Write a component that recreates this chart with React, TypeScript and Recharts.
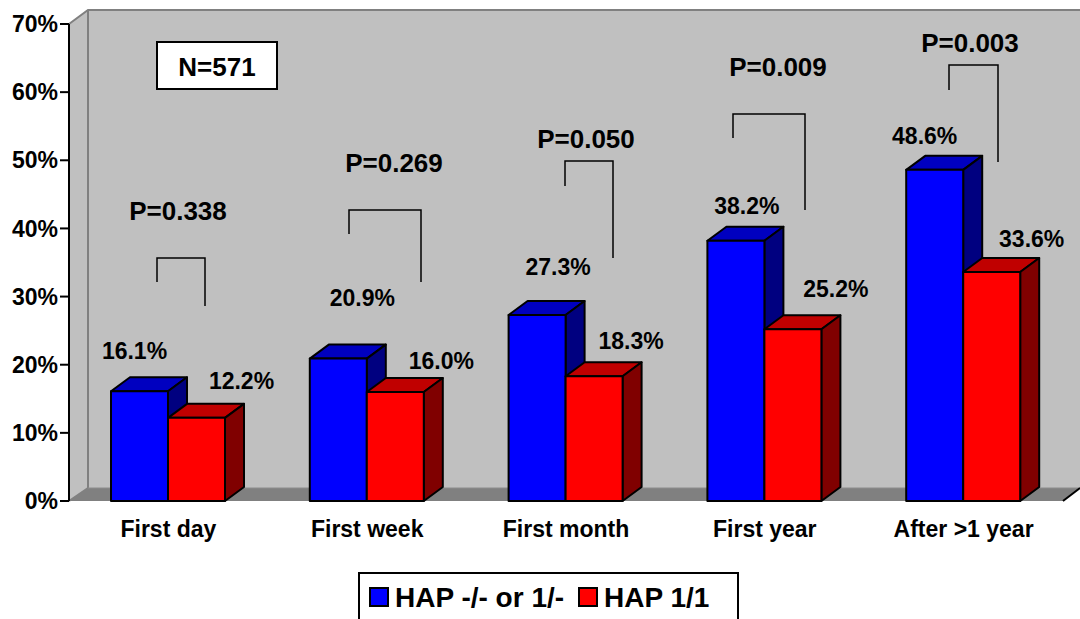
import { Bar, BarChart, Customized, LabelList, Legend, XAxis, YAxis } from 'recharts'

const CATEGORIES = ['First day', 'First week', 'First month', 'First year', 'After >1 year']
const HAP_MINUS = [16.1, 20.9, 27.3, 38.2, 48.6]
const HAP_11 = [12.2, 16.0, 18.3, 25.2, 33.6]
const Y_TICKS = [0, 10, 20, 30, 40, 50, 60, 70]
const EDGE_TICKS = [0, 1, 2, 3, 4, 5]

const P_VALUES = ['P=0.338', 'P=0.269', 'P=0.050', 'P=0.009', 'P=0.003']

// hand placed annotations, the source chart has them dragged around by hand
const P_POS = [
  [178, 211],
  [394, 163],
  [586, 139],
  [778, 67],
  [970, 43],
]
// left x, right x, top y, left end y, right end y
const BRACKETS = [
  [157, 205, 258, 282, 306],
  [349, 421, 210, 234, 282],
  [565, 613, 161, 186, 258],
  [733, 805, 114, 138, 210],
  [949, 998, 65, 90, 162],
]
const BLUE_NUDGE = [
  [-5, -40],
  [24, -61],
  [21, -48],
  [11, -35],
  [-10, -34],
]
const RED_NUDGE = [
  [45, -37],
  [46, -31],
  [37, -35],
  [43, -40],
  [40, -33],
]

const chartData = CATEGORIES.map((name, i) => ({
  name,
  hapMinus: HAP_MINUS[i],
  hap11: HAP_11[i],
}))

const DEPTH_X = 19
const DEPTH_Y = 14

function Bar3D(props: any) {
  const { x, y, width, height, fill, topFill, sideFill } = props
  const r = x + width
  const b = y + height
  return (
    <g stroke="#000" strokeWidth={2} strokeLinejoin="round">
      <polygon
        points={`${x},${y} ${x + DEPTH_X},${y - DEPTH_Y} ${r + DEPTH_X},${y - DEPTH_Y} ${r},${y}`}
        fill={topFill}
      />
      <polygon
        points={`${r},${y} ${r + DEPTH_X},${y - DEPTH_Y} ${r + DEPTH_X},${b - DEPTH_Y} ${r},${b}`}
        fill={sideFill}
      />
      <rect x={x} y={y} width={width} height={height} fill={fill} />
    </g>
  )
}

function Walls() {
  return (
    <g>
      <polygon points="88,10 1080,10 1080,488 88,488" fill="#c0c0c0" />
      <polygon points="69,24 88,10 88,488 69,501" fill="#c0c0c0" />
      <polygon points="69,501 88,488 1080,488 1063,501" fill="#808080" />
      <polyline points="69,24 88,10 1080,10" fill="none" stroke="#808080" strokeWidth={2} />
      <line x1={88} y1={10} x2={88} y2={488} stroke="#808080" strokeWidth={2} />
      <line x1={69} y1={501} x2={88} y2={488} stroke="#808080" strokeWidth={2} />
      <line x1={88} y1={488} x2={1080} y2={488} stroke="#8c8c8c" strokeWidth={1} />
      <line x1={1063} y1={501} x2={1080} y2={488} stroke="#000" strokeWidth={2} />
    </g>
  )
}

function Annotations() {
  return (
    <g>
      {BRACKETS.map(([l, r, top, lEnd, rEnd], i) => (
        <polyline
          key={i}
          points={`${l},${lEnd} ${l},${top} ${r},${top} ${r},${rEnd}`}
          fill="none"
          stroke="#000"
          strokeWidth={1.5}
        />
      ))}
      {P_VALUES.map((p, i) => (
        <text
          key={p}
          x={P_POS[i][0]}
          y={P_POS[i][1] + 9}
          textAnchor="middle"
          fontSize={26}
          fontWeight={700}
          fill="#000"
        >
          {p}
        </text>
      ))}
      <rect x={157} y={42} width={120} height={47} fill="#fff" stroke="#000" strokeWidth={2} />
      <text x={217} y={76} textAnchor="middle" fontSize={26} fontWeight={700} fill="#000">
        N=571
      </text>
    </g>
  )
}

function valueLabel(nudge: number[][]) {
  return (props: any) => {
    const { x, y, width, value, index } = props
    return (
      <text
        x={x + width / 2 + nudge[index][0]}
        y={y + nudge[index][1] + 8}
        textAnchor="middle"
        fontSize={23}
        fontWeight={700}
        fill="#000"
      >
        {`${value.toFixed(1)}%`}
      </text>
    )
  }
}

function LegendBox({ payload }: any) {
  return (
    <div
      style={{
        position: 'absolute',
        left: 0,
        top: 0,
        width: 381,
        height: 60,
        boxSizing: 'border-box',
        border: '2px solid #000',
        background: '#fff',
        display: 'flex',
        paddingLeft: 9,
        paddingTop: 8,
        fontSize: 28,
        fontWeight: 700,
        lineHeight: '32px',
        color: '#000',
        whiteSpace: 'pre',
      }}
    >
      {(payload || []).map((entry: any) => (
        <div key={entry.value} style={{ display: 'flex', alignItems: 'flex-start', marginRight: 14 }}>
          <span
            style={{
              width: 20,
              height: 20,
              boxSizing: 'border-box',
              border: '2px solid #000',
              background: entry.color,
              marginTop: 5,
              marginRight: 6,
            }}
          />
          {entry.value}
        </div>
      ))}
    </div>
  )
}

export default function App() {
  return (
    <div
      style={{
        position: 'absolute',
        left: 0,
        top: 0,
        width: 1080,
        height: 619,
        overflow: 'hidden',
        background: '#fff',
        fontFamily: '"Liberation Sans", Arial, sans-serif',
      }}
    >
      <BarChart
        width={1080}
        height={619}
        data={chartData}
        margin={{ top: 24, right: 17, bottom: 0, left: 0 }}
        barCategoryGap={42}
        barGap={0}
        barSize={57}
      >
        <Customized component={Walls} />
        <YAxis
          width={69}
          domain={[0, 70]}
          ticks={Y_TICKS}
          interval={0}
          tickFormatter={(v) => `${v}%`}
          tick={{ fill: '#000', fontSize: 23, fontWeight: 700 }}
          tickSize={9}
          tickMargin={2}
          axisLine={{ stroke: '#000', strokeWidth: 2 }}
          tickLine={{ stroke: '#000', strokeWidth: 2 }}
        />
        <XAxis
          xAxisId="edges"
          type="number"
          domain={[0, 5]}
          ticks={EDGE_TICKS}
          interval={0}
          height={0}
          tick={false}
          tickSize={8}
          axisLine={{ stroke: '#000', strokeWidth: 2 }}
          tickLine={{ stroke: '#000', strokeWidth: 2 }}
        />
        <XAxis
          xAxisId="cat"
          dataKey="name"
          height={118}
          interval={0}
          axisLine={false}
          tickLine={false}
          tickSize={8}
          tickMargin={12}
          tick={{ fill: '#000', fontSize: 23, fontWeight: 700 }}
        />
        <Bar
          xAxisId="cat"
          dataKey="hapMinus"
          name="HAP -/- or 1/-"
          fill="#0000ff"
          isAnimationActive={false}
          shape={(p: any) => <Bar3D {...p} topFill="#0000c0" sideFill="#000080" />}
        >
          <LabelList dataKey="hapMinus" content={valueLabel(BLUE_NUDGE)} />
        </Bar>
        <Bar
          xAxisId="cat"
          dataKey="hap11"
          name="HAP 1/1"
          fill="#ff0000"
          isAnimationActive={false}
          shape={(p: any) => <Bar3D {...p} topFill="#c00000" sideFill="#800000" />}
        >
          <LabelList dataKey="hap11" content={valueLabel(RED_NUDGE)} />
        </Bar>
        <Customized component={Annotations} />
        <Legend
          content={<LegendBox />}
          wrapperStyle={{ position: 'absolute', left: 358, top: 572, width: 0, height: 0, bottom: 'auto' }}
        />
      </BarChart>
    </div>
  )
}
